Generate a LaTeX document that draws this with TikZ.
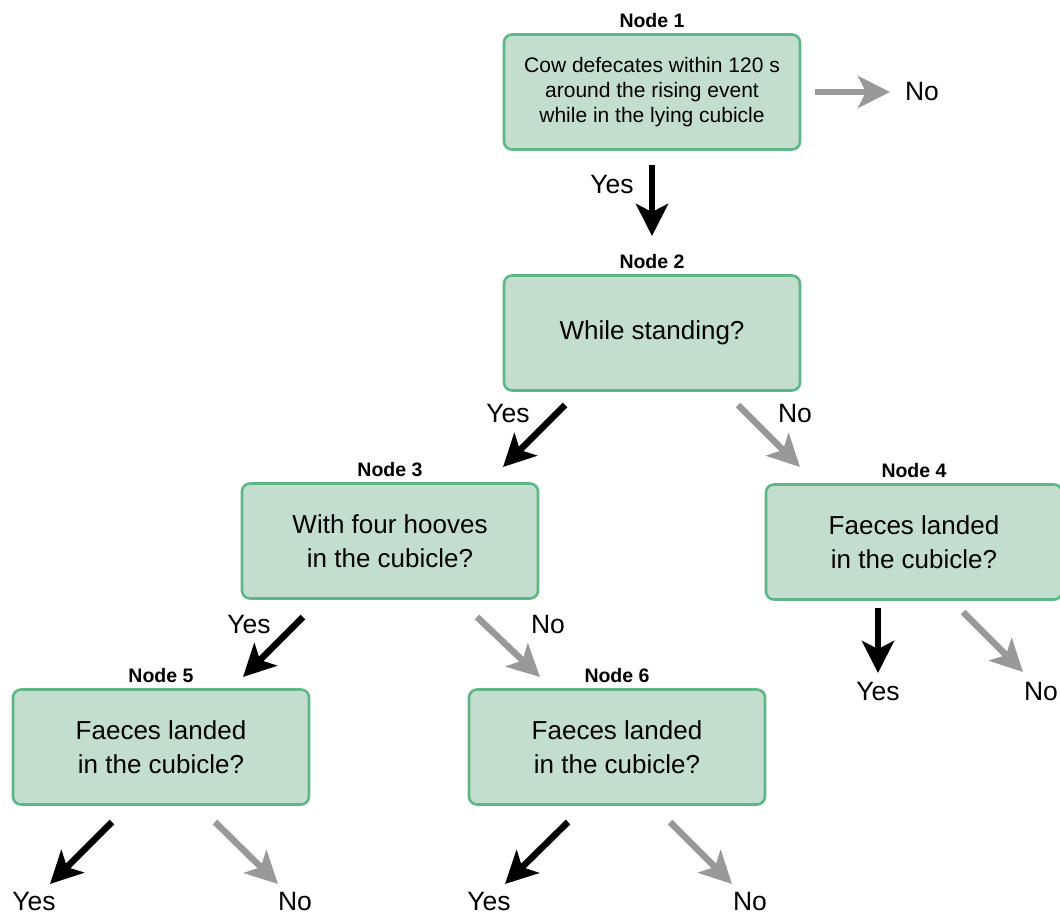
\documentclass[tikz,border=0pt]{standalone}
\usepackage{fontspec}
\setmainfont{Liberation Sans}
\usetikzlibrary{positioning,arrows.meta}
\definecolor{boxfill}{HTML}{C3DECE}
\definecolor{boxline}{HTML}{5EB786}
\definecolor{arrowgray}{HTML}{999999}
\begin{document}
\begin{tikzpicture}[
  x=1pt, y=-1pt,
  box/.style={rectangle, rounded corners=8pt, draw=boxline, fill=boxfill, line width=2.6pt,
    minimum width=296pt, minimum height=115pt, align=center, font=\fontsize{26}{34}\selectfont},
  nodelabel/.style={font=\bfseries\fontsize{19.5}{21}\selectfont, inner sep=1pt},
  answer/.style={font=\fontsize{26.5}{28}\selectfont, inner sep=0pt},
  yesarrow/.style={-{Stealth[length=32pt,width=32pt,inset=8pt]}, line width=6.5pt, black},
  noarrow/.style={-{Stealth[length=32pt,width=32pt,inset=8pt]}, line width=6.5pt, arrowgray}
]
\useasboundingbox (0,0) rectangle (1060,915);

\node[box, font=\fontsize{21}{25}\selectfont] (n1) at (652,92) {Cow defecates within 120 s\\around the rising event\\while in the lying cubicle};
\node[box] (n2) at (652,333) {While standing?};
\node[box] (n3) at (390,541) {With four hooves\\in the cubicle?};
\node[box] (n4) at (914,542) {Faeces landed\\in the cubicle?};
\node[box] (n5) at (161,747) {Faeces landed\\in the cubicle?};
\node[box] (n6) at (617,747) {Faeces landed\\in the cubicle?};

\node[nodelabel, above=4pt of n1] {Node 1};
\node[nodelabel, above=4pt of n2] {Node 2};
\node[nodelabel, above=4pt of n3] {Node 3};
\node[nodelabel, above=4pt of n4] {Node 4};
\node[nodelabel, above=4pt of n5] {Node 5};
\node[nodelabel, above=4pt of n6] {Node 6};

\node[answer] (n1no) at (922,92) {No};
\node[answer] (n1yes) at (612,185) {Yes};
\node[answer] (n2yes) at (508,414) {Yes};
\node[answer] (n2no) at (795,414) {No};
\node[answer] (n3yes) at (249,625) {Yes};
\node[answer] (n3no) at (548,625) {No};
\node[answer] (n4yes) at (878,692) {Yes};
\node[answer] (n4no) at (1041,692) {No};
\node[answer] (n5yes) at (34,902) {Yes};
\node[answer] (n5no) at (295,902) {No};
\node[answer] (n6yes) at (489,902) {Yes};
\node[answer] (n6no) at (750,902) {No};

\coordinate (a1s) at (815,92);   \coordinate (a1e) at (890,92);
\coordinate (b1s) at (652,165);  \coordinate (b1e) at (652,236);
\coordinate (a2s) at (565,405);  \coordinate (a2e) at (503,467);
\coordinate (b2s) at (738,405);  \coordinate (b2e) at (800,467);
\coordinate (a3s) at (303,617);  \coordinate (a3e) at (243,677);
\coordinate (b3s) at (477,617);  \coordinate (b3e) at (540,677);
\coordinate (a4s) at (878,608);  \coordinate (a4e) at (878,673);
\coordinate (b4s) at (963,612);  \coordinate (b4e) at (1023,672);
\coordinate (a5s) at (112,822);  \coordinate (a5e) at (50,884);
\coordinate (b5s) at (215,822);  \coordinate (b5e) at (278,884);
\coordinate (a6s) at (568,822);  \coordinate (a6e) at (505,884);
\coordinate (b6s) at (670,822);  \coordinate (b6e) at (732,884);

\draw[noarrow] (a1s) -- (a1e);
\draw[yesarrow] (b1s) -- (b1e);
\draw[yesarrow] (a2s) -- (a2e);
\draw[noarrow] (b2s) -- (b2e);
\draw[yesarrow] (a3s) -- (a3e);
\draw[noarrow] (b3s) -- (b3e);
\draw[yesarrow] (a4s) -- (a4e);
\draw[noarrow] (b4s) -- (b4e);
\draw[yesarrow] (a5s) -- (a5e);
\draw[noarrow] (b5s) -- (b5e);
\draw[yesarrow] (a6s) -- (a6e);
\draw[noarrow] (b6s) -- (b6e);
\end{tikzpicture}
\end{document}
